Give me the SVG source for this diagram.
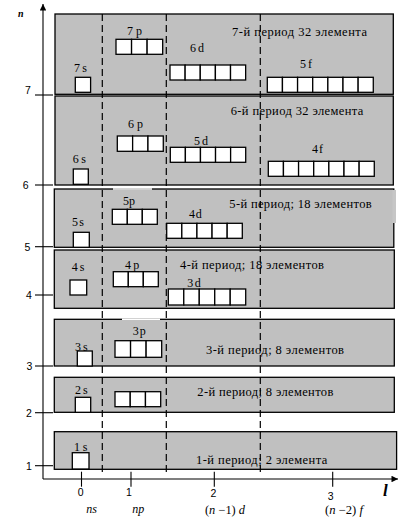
<svg xmlns="http://www.w3.org/2000/svg" width="411" height="531" viewBox="0 0 411 531">
<style>
.per{fill:#c0c0c0;stroke:#000;stroke-width:1.3}
.cell{fill:#fff;stroke:#000;stroke-width:1.3}
.t{font-family:"Liberation Serif","Times New Roman",serif;font-size:12.5px;fill:#000}
.lb{font-family:"Liberation Serif","Times New Roman",serif;font-size:12px;fill:#000}
.ax{stroke:#000;stroke-width:1.1;fill:none}
.dash{stroke:#000;stroke-width:1.2;stroke-dasharray:7 4;fill:none}
.num{font-family:"Liberation Sans",Arial,sans-serif;font-size:10.5px;fill:#000}
.it{font-family:"Liberation Serif","Times New Roman",serif;font-style:italic;font-size:12px;fill:#000}
</style>
<defs>
<marker id="arr" viewBox="0 0 10 10" refX="10" refY="5" markerWidth="8" markerHeight="6.5" markerUnits="userSpaceOnUse" orient="auto">
<path d="M0,0 L10,5 L0,10 z" fill="#000"/>
</marker>
</defs>

<g id="axes">
<line class="ax" x1="43" y1="479" x2="43" y2="4" marker-end="url(#arr)"/>
<line class="ax" x1="43" y1="479" x2="398" y2="479" marker-end="url(#arr)"/>
<text x="18" y="16.7" style="font-family:'Liberation Serif',serif;font-style:italic;font-weight:bold;font-size:10px">n</text>
<text x="383" y="496" style="font-family:'Liberation Serif',serif;font-style:italic;font-weight:bold;font-size:17px">l</text>
<g class="ax">
<line x1="35" y1="95" x2="53" y2="95"/>
<line x1="35" y1="185" x2="53" y2="185"/>
<line x1="35" y1="246.7" x2="53" y2="246.7"/>
<line x1="35" y1="295" x2="53" y2="295"/>
<line x1="35" y1="366" x2="53" y2="366"/>
<line x1="35" y1="412.7" x2="53" y2="412.7"/>
<line x1="35" y1="465.7" x2="53" y2="465.7"/>
<line x1="81.5" y1="471.7" x2="81.5" y2="486.7"/>
<line x1="131" y1="471.7" x2="131" y2="486.7"/>
<line x1="214.3" y1="471.7" x2="214.3" y2="486.7"/>
<line x1="332.7" y1="471.7" x2="332.7" y2="486.7"/>
</g>
<text class="num" x="25" y="94">7</text>
<text class="num" x="22.7" y="189">6</text>
<text class="num" x="24.5" y="250.7">5</text>
<text class="num" x="26" y="299">4</text>
<text class="num" x="26.5" y="370">3</text>
<text class="num" x="26" y="416.7">2</text>
<text class="num" x="26" y="469.7">1</text>
<text class="num" x="80.7" y="496" text-anchor="middle">0</text>
<text class="num" x="129" y="496" text-anchor="middle">1</text>
<text class="num" x="213.3" y="497" text-anchor="middle">2</text>
<text class="num" x="330.7" y="500" text-anchor="middle">3</text>
<text class="it" x="91.7" y="513" text-anchor="middle">ns</text>
<text class="it" x="138.3" y="513" text-anchor="middle">np</text>
<text class="lb" x="205" y="514" textLength="40" lengthAdjust="spacingAndGlyphs">(<tspan font-style="italic">n</tspan> −1) <tspan font-style="italic">d</tspan></text>
<text class="lb" x="325" y="514" textLength="38" lengthAdjust="spacingAndGlyphs">(<tspan font-style="italic">n</tspan> −2) <tspan font-style="italic">f</tspan></text>
</g>

<g id="period7">
<rect class="per" x="55" y="14" width="338.3" height="80.3"/>
</g>
<g id="period6">
<rect class="per" x="55" y="96" width="338.3" height="89"/>
</g>
<g id="period5">
<rect class="per" x="54.3" y="189" width="339.5" height="58.3"/>
<rect x="392.5" y="190" width="3.5" height="33" fill="#c6c6c6"/>
<line x1="113" y1="189" x2="152" y2="189" stroke="#fff" stroke-width="1.6"/>
</g>
<g id="period4">
<rect class="per" x="54.3" y="250" width="340" height="58.3"/>
</g>
<g id="period3">
<rect class="per" x="54.3" y="319.3" width="340" height="46.7"/>
<line x1="122" y1="319.3" x2="160" y2="319.3" stroke="#fff" stroke-width="1.6"/>
</g>
<g id="period2">
<rect class="per" x="54.3" y="377.3" width="340" height="35"/>
</g>
<g id="period1">
<rect class="per" x="54.3" y="431.7" width="342.3" height="37.6"/>
</g>

<g id="dividers">
<line class="dash" x1="102.3" y1="14" x2="102.3" y2="476"/>
<line class="dash" x1="166.3" y1="14" x2="166.3" y2="476"/>
<line class="dash" x1="260.3" y1="14" x2="260.3" y2="476"/>
</g>

<g id="cells7">
<rect class="cell" x="75.3" y="77.3" width="15.3" height="15"/>
<rect class="cell" x="116" y="39.3" width="15.56" height="15"/>
<rect class="cell" x="131.56" y="39.3" width="15.56" height="15"/>
<rect class="cell" x="147.12" y="39.3" width="15.56" height="15"/>
<rect class="cell" x="170" y="65" width="15.13" height="15"/>
<rect class="cell" x="185.13" y="65" width="15.13" height="15"/>
<rect class="cell" x="200.26" y="65" width="15.13" height="15"/>
<rect class="cell" x="215.39" y="65" width="15.13" height="15"/>
<rect class="cell" x="230.52" y="65" width="15.13" height="15"/>
<rect class="cell" x="267.3" y="77.3" width="15.14" height="15"/>
<rect class="cell" x="282.44" y="77.3" width="15.14" height="15"/>
<rect class="cell" x="297.58" y="77.3" width="15.14" height="15"/>
<rect class="cell" x="312.72" y="77.3" width="15.14" height="15"/>
<rect class="cell" x="327.86" y="77.3" width="15.14" height="15"/>
<rect class="cell" x="343" y="77.3" width="15.14" height="15"/>
<rect class="cell" x="358.14" y="77.3" width="15.14" height="15"/>
<text class="lb" x="74" y="71.5" textLength="13" lengthAdjust="spacing">7s</text>
<text class="lb" x="127" y="35" textLength="15" lengthAdjust="spacing">7p</text>
<text class="lb" x="190" y="51.7" textLength="14" lengthAdjust="spacing">6d</text>
<text class="lb" x="300" y="68.3" textLength="12" lengthAdjust="spacing">5f</text>
<text class="t" x="232" y="35.5" textLength="135" lengthAdjust="spacing">7-й период 32 элемента</text>
</g>

<g id="cells6">
<rect class="cell" x="73.3" y="169" width="15" height="15.3"/>
<rect class="cell" x="117.3" y="136" width="15.33" height="15.3"/>
<rect class="cell" x="132.63" y="136" width="15.33" height="15.3"/>
<rect class="cell" x="147.96" y="136" width="15.33" height="15.3"/>
<rect class="cell" x="170.3" y="147.3" width="15.08" height="15"/>
<rect class="cell" x="185.38" y="147.3" width="15.08" height="15"/>
<rect class="cell" x="200.46" y="147.3" width="15.08" height="15"/>
<rect class="cell" x="215.54" y="147.3" width="15.08" height="15"/>
<rect class="cell" x="230.62" y="147.3" width="15.08" height="15"/>
<rect class="cell" x="268.3" y="161.3" width="15.14" height="15"/>
<rect class="cell" x="283.44" y="161.3" width="15.14" height="15"/>
<rect class="cell" x="298.58" y="161.3" width="15.14" height="15"/>
<rect class="cell" x="313.72" y="161.3" width="15.14" height="15"/>
<rect class="cell" x="328.86" y="161.3" width="15.14" height="15"/>
<rect class="cell" x="344" y="161.3" width="15.14" height="15"/>
<rect class="cell" x="359.14" y="161.3" width="15.14" height="15"/>
<text class="lb" x="72.7" y="163.3" textLength="13.3" lengthAdjust="spacing">6s</text>
<text class="lb" x="128" y="127.5" textLength="15" lengthAdjust="spacing">6p</text>
<text class="lb" x="194" y="145" textLength="14" lengthAdjust="spacing">5d</text>
<text class="lb" x="312" y="153.3" textLength="11" lengthAdjust="spacing">4f</text>
<text class="t" x="230.7" y="115" textLength="132.6" lengthAdjust="spacing">6-й период 32 элемента</text>
</g>

<g id="cells5">
<rect class="cell" x="73.3" y="232.3" width="16" height="15"/>
<rect class="cell" x="112.3" y="209.3" width="15" height="15"/>
<rect class="cell" x="127.3" y="209.3" width="15" height="15"/>
<rect class="cell" x="142.3" y="209.3" width="15" height="15"/>
<rect class="cell" x="166.7" y="223.3" width="15.12" height="15"/>
<rect class="cell" x="181.82" y="223.3" width="15.12" height="15"/>
<rect class="cell" x="196.94" y="223.3" width="15.12" height="15"/>
<rect class="cell" x="212.06" y="223.3" width="15.12" height="15"/>
<rect class="cell" x="227.18" y="223.3" width="15.12" height="15"/>
<text class="lb" x="72" y="225.7" textLength="12" lengthAdjust="spacing">5s</text>
<text class="lb" x="123" y="204.5" textLength="12" lengthAdjust="spacing">5p</text>
<text class="lb" x="189" y="218.3" textLength="12.7" lengthAdjust="spacing">4d</text>
<text class="t" x="229.3" y="208.3" textLength="142.4" lengthAdjust="spacing">5-й период; 18 элементов</text>
</g>

<g id="cells4">
<rect class="cell" x="70" y="280" width="16.7" height="15"/>
<rect class="cell" x="113.3" y="271.7" width="15" height="15"/>
<rect class="cell" x="128.3" y="271.7" width="15" height="15"/>
<rect class="cell" x="143.3" y="271.7" width="15" height="15"/>
<rect class="cell" x="168.3" y="289" width="15.48" height="16"/>
<rect class="cell" x="183.78" y="289" width="15.48" height="16"/>
<rect class="cell" x="199.26" y="289" width="15.48" height="16"/>
<rect class="cell" x="214.74" y="289" width="15.48" height="16"/>
<rect class="cell" x="230.22" y="289" width="15.48" height="16"/>
<text class="lb" x="71.7" y="270.7" textLength="12.6" lengthAdjust="spacing">4s</text>
<text class="lb" x="125" y="269" textLength="14.3" lengthAdjust="spacing">4p</text>
<text class="lb" x="187.3" y="286.7" textLength="13.4" lengthAdjust="spacing">3d</text>
<text class="t" x="180" y="269" textLength="144" lengthAdjust="spacing">4-й период; 18 элементов</text>
</g>

<g id="cells3">
<rect class="cell" x="77.3" y="351" width="15" height="15"/>
<rect class="cell" x="115" y="340.7" width="15.56" height="16.6"/>
<rect class="cell" x="130.56" y="340.7" width="15.56" height="16.6"/>
<rect class="cell" x="146.12" y="340.7" width="15.56" height="16.6"/>
<text class="lb" x="75" y="350.7" textLength="12.7" lengthAdjust="spacing">3s</text>
<text class="lb" x="132.7" y="334.5" textLength="13" lengthAdjust="spacing">3p</text>
<text class="t" x="206" y="354" textLength="138" lengthAdjust="spacing">3-й период; 8 элементов</text>
</g>

<g id="cells2">
<rect class="cell" x="75.3" y="397.3" width="15.4" height="15"/>
<rect class="cell" x="115" y="391.7" width="15.23" height="15"/>
<rect class="cell" x="130.23" y="391.7" width="15.23" height="15"/>
<rect class="cell" x="145.46" y="391.7" width="15.23" height="15"/>
<text class="lb" x="75" y="394" textLength="12.7" lengthAdjust="spacing">2s</text>
<text class="t" x="197.3" y="395.5" textLength="136" lengthAdjust="spacing">2-й период; 8 элементов</text>
</g>

<g id="cells1">
<rect class="cell" x="72.3" y="452.7" width="16.7" height="16.3"/>
<text class="lb" x="74" y="450.7" textLength="13.3" lengthAdjust="spacing">1s</text>
<text class="t" x="196" y="464" textLength="131.3" lengthAdjust="spacing">1-й период; 2 элемента</text>
</g>
</svg>
